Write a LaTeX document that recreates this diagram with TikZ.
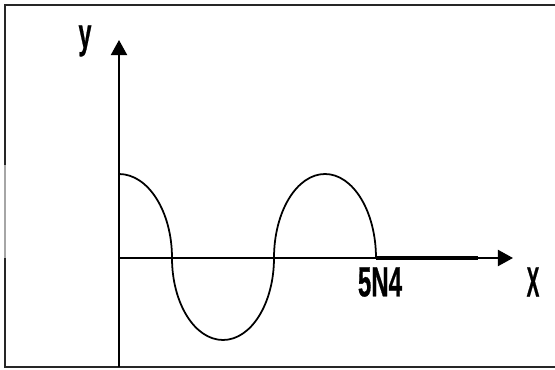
\documentclass[tikz,border=0pt]{standalone}
\usepackage{fontspec}
\setmainfont{Liberation Sans}
\newfontfamily\lblfont{Liberation Sans}[BoldFeatures={FakeBold=0.8}]
\usetikzlibrary{arrows.meta}
\begin{document}
\begin{tikzpicture}[
    lbl/.style={font=\lblfont\bfseries\fontsize{24}{24}\selectfont, inner sep=0pt, xscale=#1},
    lbl/.default=0.55,
    frame/.style={line width=0.9pt, black!85},
    axis/.style={-{Triangle[length=0.3cm, width=0.32cm]}, line width=1.1pt},
    wave/.style={line width=1pt},
    tail/.style={line width=2.4pt}
]
    \useasboundingbox (-2.38,-2.22) rectangle (8.72,5.16);
    % frame
    \draw[frame] (8.72,5.06) -- (-2.28,5.06) -- (-2.28,1.86);
    \draw[frame, black!35] (-2.28,1.86) -- (-2.28,0);
    \draw[frame] (-2.28,0) -- (-2.28,-2.18) -- (8.72,-2.18);
    % axes
    \coordinate (O) at (0,0);
    \coordinate (ybot) at (0,-2.18);
    \coordinate (ytop) at (0,4.36);
    \coordinate (xend) at (7.88,0);
    \draw[axis] (ybot) -- (ytop);
    \draw[axis] (O) -- (xend);
    % wave
    \coordinate (w0) at (0,1.68);
    \coordinate (w4) at (5.14,0);
    \draw[wave] (w0) arc[start angle=90, end angle=0, x radius=1.06, y radius=1.68]
        arc[start angle=180, end angle=360, x radius=1.02, y radius=1.64]
        arc[start angle=180, end angle=0, x radius=1.02, y radius=1.68];
    \coordinate (tailend) at (7.18,0);
    \draw[tail] (w4) -- (tailend);
    % labels
    \node[lbl] (ylab) at (-0.68,4.34) {y};
    \node[lbl=0.57] (tlab) at (5.22,-0.48) {5N4};
    \node[lbl=0.45] (xlab) at (8.28,-0.48) {X};
\end{tikzpicture}
\end{document}
